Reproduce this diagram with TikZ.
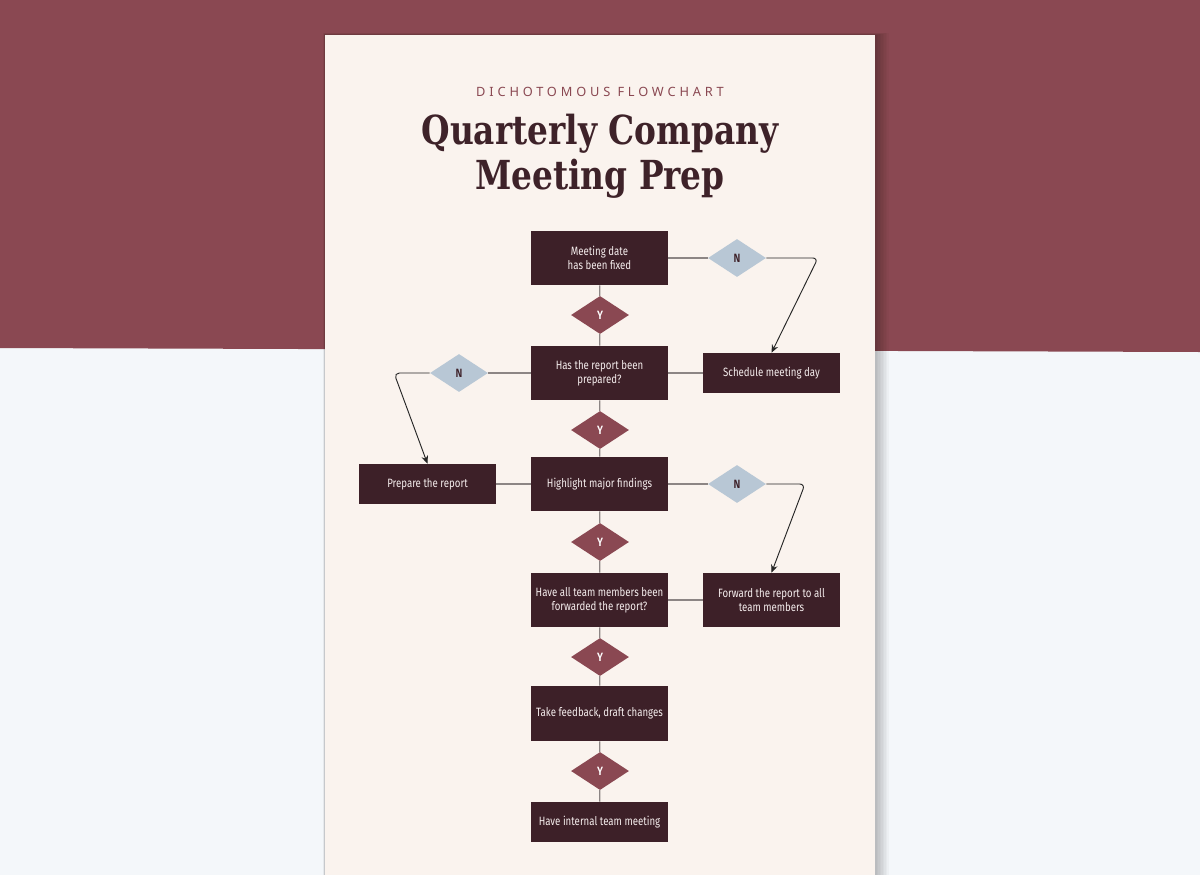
\documentclass[tikz,border=0pt]{standalone}
\usepackage{fontspec}
\setmainfont{DejaVu Serif}
\newfontfamily\boxfont[FakeStretch=0.80]{Fira Sans}
\newfontfamily\boxfontbold[FakeStretch=0.85]{Fira Sans SemiBold}
\newfontfamily\subfont[LetterSpace=30]{Noto Sans}
\newfontfamily\titlefont[FakeStretch=0.82]{DejaVu Serif}
\usetikzlibrary{shapes.geometric,arrows.meta}
\definecolor{maroon}{HTML}{8A4852}
\definecolor{lowbg}{HTML}{F4F7FA}
\definecolor{paper}{HTML}{FAF3EE}
\definecolor{boxc}{HTML}{3D2028}
\definecolor{titlec}{HTML}{3E2229}
\definecolor{nblue}{HTML}{B8C7D5}
\definecolor{linec}{HTML}{8C8584}
\definecolor{boxtext}{HTML}{F6EEEE}
\tikzset{
  stepbox/.style={rectangle, fill=boxc, draw=none, minimum width=137*0.75pt, minimum height=54*0.75pt, inner sep=0pt, align=center, text=boxtext, font=\boxfont\fontsize{9.05pt}{10.8pt}\selectfont},
  shortbox/.style={stepbox, minimum height=40*0.75pt},
  ydia/.style={diamond, fill=maroon, minimum width=58*0.75pt, minimum height=38*0.75pt, inner sep=0pt, text=white, font=\boxfontbold\fontsize{9pt}{10pt}\selectfont},
  ndia/.style={ydia, fill=nblue, text=boxc},
  conn/.style={draw=linec, line width=0.9pt},
  narrow/.style={draw=black!85, line width=0.7pt, rounded corners=4pt, -{Stealth[length=6pt,width=5pt]}},
}
\begin{document}
\begin{tikzpicture}[x=0.75pt,y=-0.75pt]
\useasboundingbox (0,0) rectangle (1200,875);
\fill[lowbg] (0,0) rectangle (1200,875);
\fill[maroon] (0,0) -- (1200,0) -- (1200,352) -- (0,348) -- cycle;
\foreach \i in {1,...,9} {
  \fill[black, opacity=0.028] (325-\i*0.2,35-\i*0.25) rectangle (875+\i*1.5,875);
}
\fill[paper] (325,35) rectangle (875,875);

\node[font=\subfont\fontsize{9.6pt}{11pt}\selectfont, text=maroon] (sub) at (600,92) {DICHOTOMOUS FLOWCHART};
\node[font=\titlefont\bfseries\fontsize{30pt}{34pt}\selectfont, text=titlec] (t1) at (600,134) {Quarterly Company};
\node[font=\titlefont\bfseries\fontsize{30pt}{34pt}\selectfont, text=titlec] (t2) at (600,179) {Meeting Prep};

\node[stepbox] (b1) at (599.5,258) {Meeting date\\has been fixed};
\node[ydia] (y1) at (600,315) {Y};
\node[stepbox] (b2) at (599.5,373) {Has the report been\\prepared?};
\node[ydia] (y2) at (600,430) {Y};
\node[stepbox] (b3) at (599.5,484) {Highlight major findings};
\node[ydia] (y3) at (600,542) {Y};
\node[stepbox] (b4) at (599.5,600) {Have all team members been\\forwarded the report?};
\node[ydia] (y4) at (600,657) {Y};
\node[stepbox, minimum height=55*0.75pt] (b5) at (599.5,713.5) {Take feedback, draft changes};
\node[ydia] (y5) at (600,771) {Y};
\node[shortbox] (b6) at (599.5,822) {Have internal team meeting};

\node[ndia] (n1) at (737,258) {N};
\node[shortbox] (s1) at (771.5,373) {Schedule meeting day};
\node[ndia] (n2) at (459,373) {N};
\node[shortbox] (p1) at (427.5,484) {Prepare the report};
\node[ndia] (n3) at (737,484) {N};
\node[stepbox] (f1) at (771.5,600) {Forward the report to all\\team members};

\draw[conn] (b1) -- (y1) -- (b2) -- (y2) -- (b3) -- (y3) -- (b4) -- (y4) -- (b5) -- (y5) -- (b6);
\draw[conn] (b1.east) -- (n1.west);
\draw[conn] (s1.west) -- (b2.east);
\draw[conn] (b2.west) -- (n2.east);
\draw[conn] (p1.east) -- (b3.west);
\draw[conn] (b3.east) -- (n3.west);
\draw[conn] (f1.west) -- (b4.east);

\coordinate (c1) at (818,258);
\coordinate (c2) at (394,373);
\coordinate (c3) at (805,484);
\draw[narrow] (n1.east) -- (c1) -- (s1.north);
\draw[narrow] (n2.west) -- (c2) -- (p1.north);
\draw[narrow] (n3.east) -- (c3) -- (f1.north);
\end{tikzpicture}
\end{document}
